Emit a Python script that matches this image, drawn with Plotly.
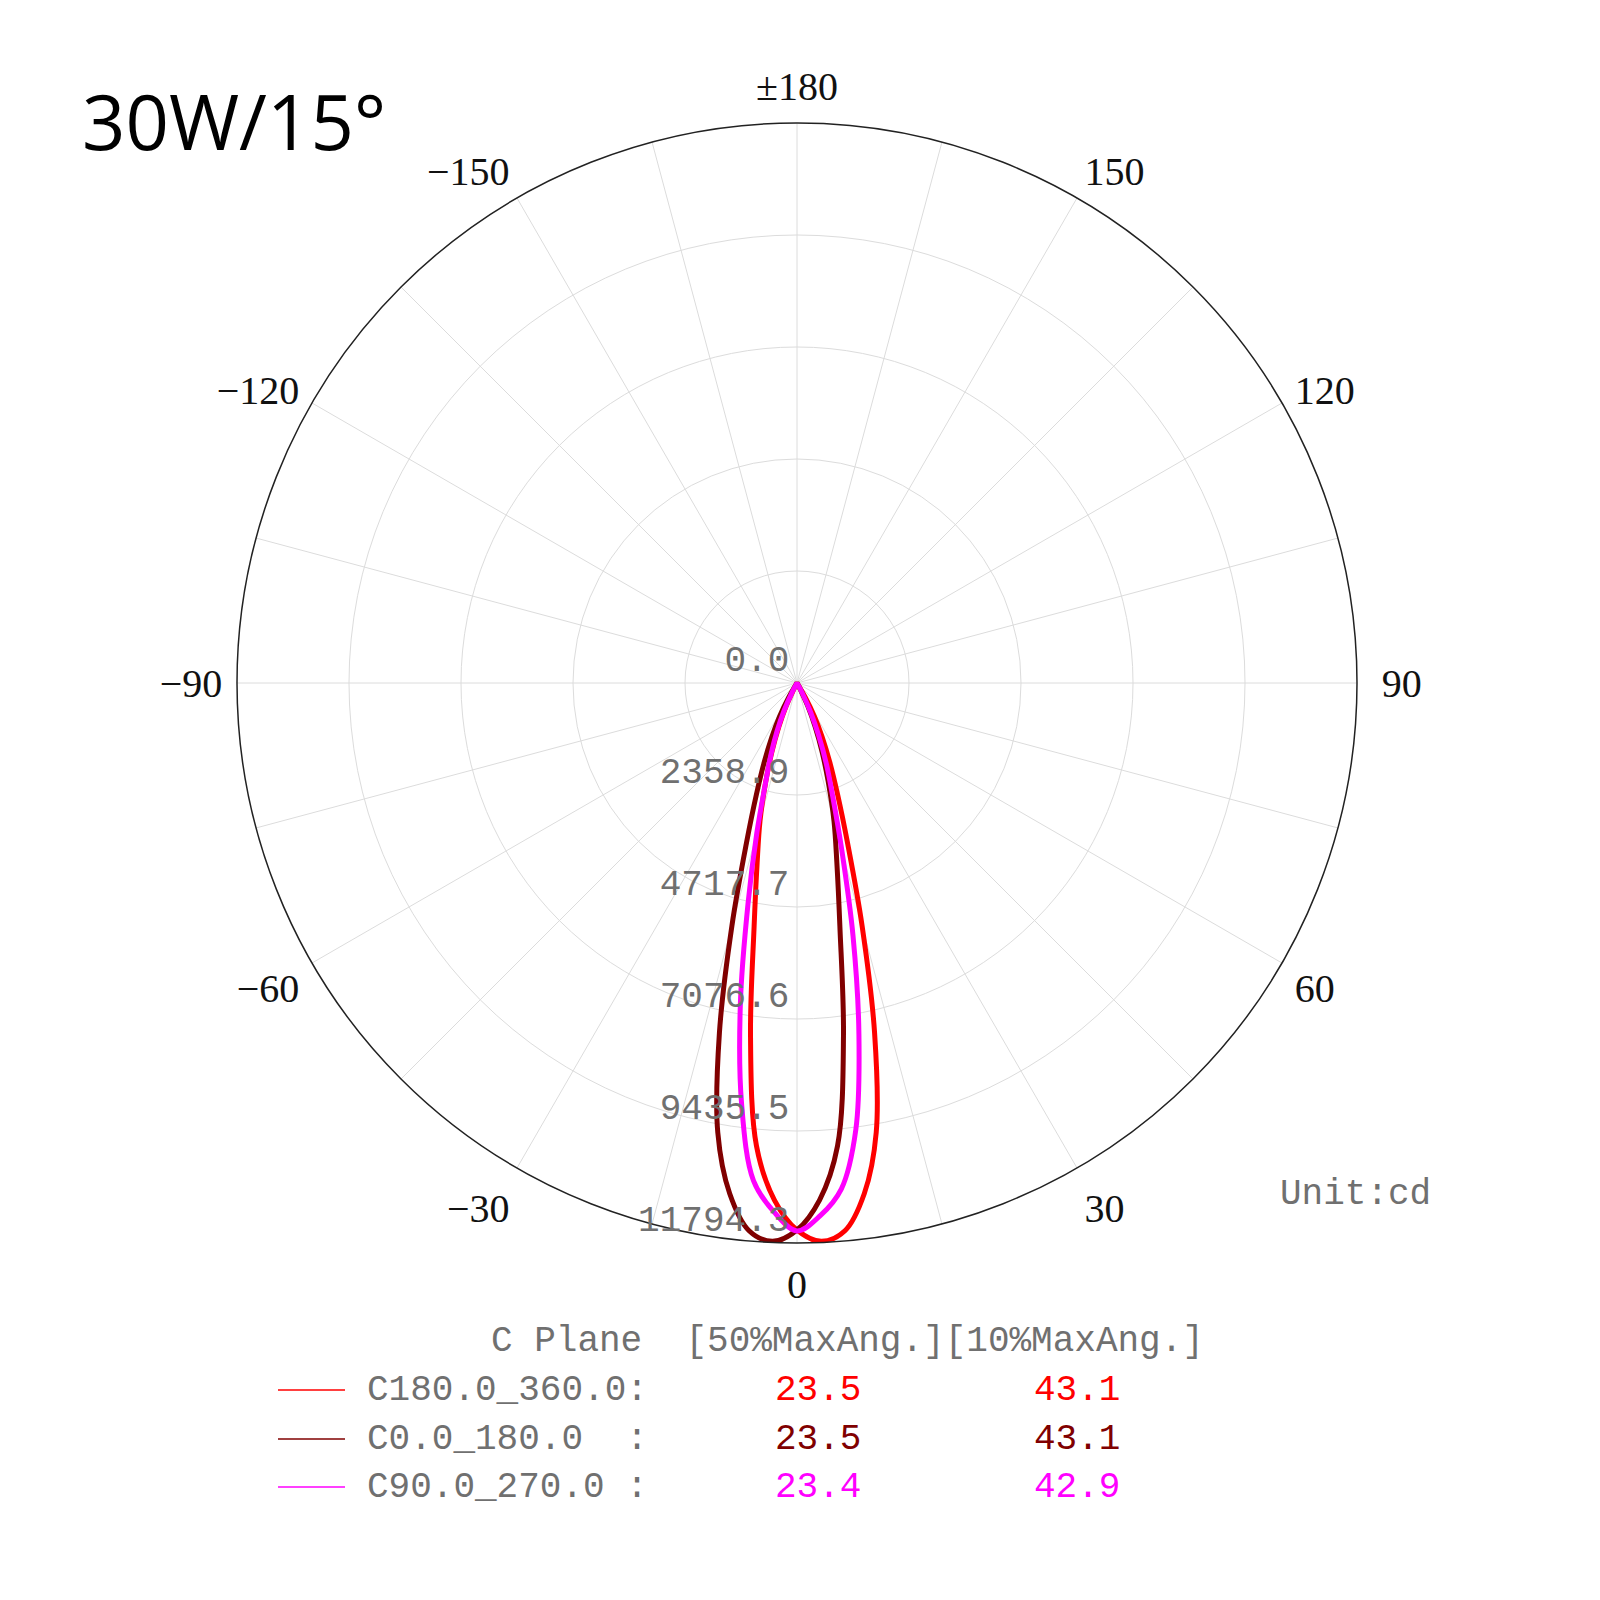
import plotly.graph_objects as go

# gamma angles (deg) and intensities (cd) per C half-plane
gamma = [0, 2.5, 5, 7.5, 10, 12.5, 15, 17.5, 20, 22.5, 25, 27.5, 30, 32.5]
c0 = [11520, 10900, 9790, 7500, 5200, 3880, 3010, 2200, 1550, 1000, 550, 150, 0, 0]
c180 = [11520, 11770, 11580, 10850, 9610, 7550, 5300, 3550, 2500, 1800, 1250, 800, 350, 0]
c90 = [11540, 11230, 10700, 9490, 7510, 5450, 3650, 2500, 1800, 1180, 680, 250, 0, 0]
c270 = [11540, 11150, 10520, 8940, 6870, 4770, 3270, 2200, 1600, 1100, 650, 230, 0, 0]

r_ticks = [0.0, 2358.9, 4717.7, 7076.6, 9435.5, 11794.3]
ang_vals = list(range(0, 360, 15))
ang_text = {0: "0", 30: "30", 60: "60", 90: "\u00a090", 120: "120", 150: "150",
            180: "\u00b1180", 210: "\u2212150", 240: "\u2212120", 270: "\u221290",
            300: "\u221260", 330: "\u221230"}

plane_names = ["C180.0_360.0:", "C0.0_180.0  :", "C90.0_270.0 :"]
ang50 = ["23.5", "23.5", "23.4"]
ang10 = ["43.1", "43.1", "42.9"]
colors = ["#ff0000", "#800000", "#ff00ff"]

OFF = 8  # page margin of the html body


def px(x):
  return (x - OFF) / 1600


def py(y):
  return 1 - (y - OFF) / 1600


def plane(left, right):
  th = [-g for g in reversed(gamma)] + gamma[1:]
  rr = list(reversed(left)) + right[1:]
  return th, rr


curves = [plane(c0, c180), plane(c180, c0), plane(c270, c90)]

fig = go.Figure()
for (th, rr), col, nm in zip(curves, colors, plane_names):
  fig.add_trace(go.Scatterpolar(theta=th, r=rr, mode="lines", name=nm,
                                line=dict(color=col, width=5, shape="spline")))

mono = "Liberation Mono, monospace"
serif = "Liberation Serif, serif"
grey = "#707070"

fig.update_layout(
  width=1600, height=1600,
  margin=dict(l=0, r=0, t=0, b=0),
  paper_bgcolor="white",
  showlegend=False,
  polar=dict(
    domain=dict(x=[px(237), px(1357)], y=[py(1243), py(123)]),
    bgcolor="white",
    angularaxis=dict(
      rotation=270, direction="counterclockwise",
      tickmode="array", tickvals=ang_vals,
      ticktext=[ang_text.get(v, "") for v in ang_vals],
      tickfont=dict(family=serif, size=40, color="#111"),
      ticks="outside", ticklen=6, tickcolor="rgba(0,0,0,0)",
      showgrid=True, gridcolor="#dcdcdc", gridwidth=1,
      showline=True, linecolor="#222", linewidth=1.5),
    radialaxis=dict(
      range=[0, 11794.3], angle=-90, side="clockwise",
      tickmode="array", tickvals=r_ticks,
      ticktext=[f"{v:.1f}<br> " for v in r_ticks],
      tickangle=-90,
      tickfont=dict(family=mono, size=36, color=grey),
      ticks="", showline=False,
      showgrid=True, gridcolor="#dcdcdc", gridwidth=1),
  ),
)

fig.add_annotation(text="30W/15\u00b0", x=px(80), y=py(120), xref="paper", yref="paper",
                   xanchor="left", yanchor="middle", showarrow=False,
                   font=dict(family="Open Sans, sans-serif", size=76, color="black"))
fig.add_annotation(text="Unit:cd", x=px(1433), y=py(1194), xref="paper", yref="paper",
                   xanchor="right", yanchor="middle", showarrow=False,
                   font=dict(family=mono, size=36, color=grey))
fig.add_annotation(text="C Plane  [50%MaxAng.][10%MaxAng.]", x=px(1206), y=py(1341),
                   xref="paper", yref="paper", xanchor="right", yanchor="middle", showarrow=False,
                   font=dict(family=mono, size=36, color=grey))

row_y = [1390, 1439, 1487]
for i in range(3):
  y = py(row_y[i])
  fig.add_shape(type="line", xref="paper", yref="paper", x0=px(278), x1=px(345), y0=y, y1=y,
                line=dict(color=colors[i], width=1.5))
  fig.add_annotation(text=plane_names[i].replace(" ", "&nbsp;"), x=px(365), y=y, xref="paper", yref="paper",
                     xanchor="left", yanchor="middle", showarrow=False,
                     font=dict(family=mono, size=36, color=grey))
  fig.add_annotation(text=ang50[i], x=px(818), y=y, xref="paper", yref="paper",
                     xanchor="center", yanchor="middle", showarrow=False,
                     font=dict(family=mono, size=36, color=colors[i]))
  fig.add_annotation(text=ang10[i], x=px(1077), y=y, xref="paper", yref="paper",
                     xanchor="center", yanchor="middle", showarrow=False,
                     font=dict(family=mono, size=36, color=colors[i]))

fig.write_html("out.html")
